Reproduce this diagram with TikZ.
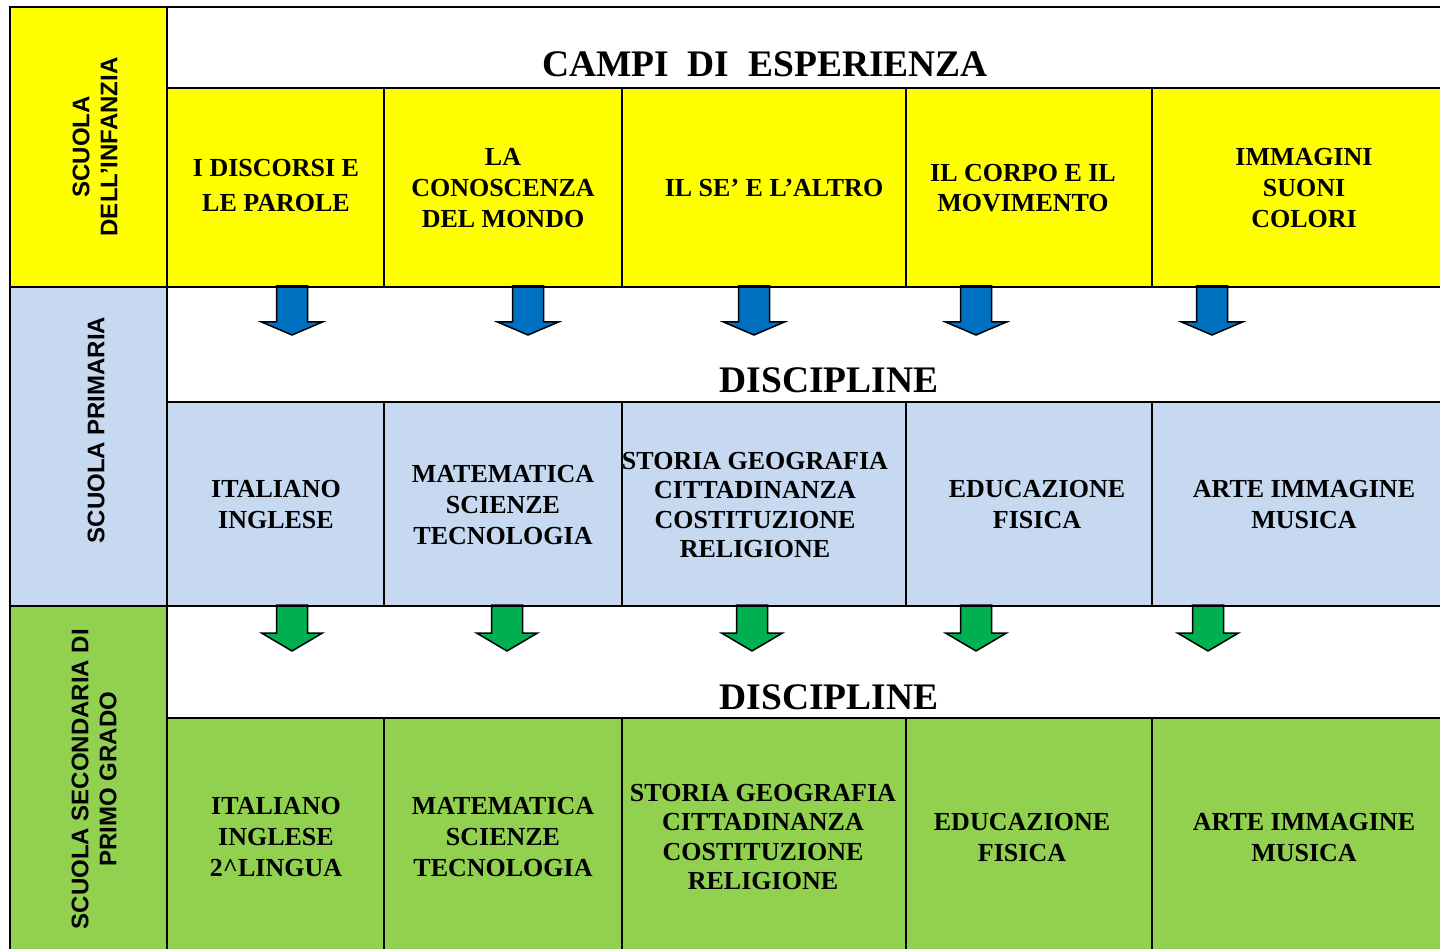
\documentclass[tikz,border=0pt]{standalone}
\usepackage{fontspec}
\setmainfont{Liberation Serif}
\newfontfamily\arialf{Liberation Sans}
\definecolor{cyel}{HTML}{FFFF00}
\definecolor{cblu}{HTML}{C6D9F1}
\definecolor{cgrn}{HTML}{92D050}
\definecolor{ablu}{HTML}{0070C0}
\definecolor{agrn}{HTML}{00B050}
\begin{document}
\begin{tikzpicture}[x=1pt,y=-1pt,
  grid/.style={draw=black,line width=2pt},
  txt/.style={font=\bfseries\fontsize{26}{31}\selectfont,align=center,inner sep=0pt},
  side/.style={font=\arialf\bfseries\fontsize{24}{28}\selectfont,align=center,rotate=90,inner sep=0pt},
  big/.style={font=\bfseries\fontsize{37.5}{40}\selectfont,inner sep=0pt},
  barrow/.style={fill=ablu,draw=black,line width=1.5pt,line join=miter},
  garrow/.style={fill=agrn,draw=black,line width=1.5pt,line join=miter}]
\useasboundingbox (0,0) rectangle (1440,949);
\clip (0,0) rectangle (1440,949);
% fills
\fill[white] (0,0) rectangle (1440,949);
\fill[cyel] (10,7) rectangle (167,287);
\fill[cblu] (10,287) rectangle (167,606);
\fill[cgrn] (10,606) rectangle (167,960);
\fill[cyel] (167,88) rectangle (1450,287);
\fill[cblu] (167,402) rectangle (1450,606);
\fill[cgrn] (167,718) rectangle (1450,960);
% arrows
\foreach \c [count=\i] in {292,528,754,976,1212}{
  \draw[barrow] (\c-15.5,286) -- (\c+15.5,286) -- (\c+15.5,322) -- (\c+30.5,322)
     -- (\c,335) -- (\c-30.5,322) -- (\c-15.5,322) -- cycle;
}
\foreach \c [count=\i] in {292,507,752,976,1208}{
  \draw[garrow] (\c-15.5,605) -- (\c+15.5,605) -- (\c+15.5,633) -- (\c+30.5,633)
     -- (\c,651) -- (\c-30.5,633) -- (\c-15.5,633) -- cycle;
}
% grid lines
\draw[grid] (1450,7) -- (10,7) -- (10,960);
\draw[grid] (167,7) -- (167,960);
\draw[grid] (167,88) -- (1450,88);
\draw[grid] (10,287) -- (1450,287);
\draw[grid] (167,402) -- (1450,402);
\draw[grid] (10,606) -- (1450,606);
\draw[grid] (167,718) -- (1450,718);
\foreach \x in {384,622,906,1152}{
  \draw[grid] (\x,88) -- (\x,287);
  \draw[grid] (\x,402) -- (\x,606);
  \draw[grid] (\x,718) -- (\x,960);
}
% side labels
\node[side] (s1) at (95,147) {SCUOLA\\DELL’INFANZIA};
\node[side] (s2) at (96,430) {SCUOLA PRIMARIA};
\node[side] (s3) at (94,779) {SCUOLA SECONDARIA DI\\PRIMO GRADO};
% headers
\node[big] (h1) at (765,64) {CAMPI\ \ DI\ \ ESPERIENZA};
\node[big] (h2) at (829,380) {DISCIPLINE};
\node[big] (h3) at (829,697) {DISCIPLINE};
% yellow row
\node[txt,font=\bfseries\fontsize{26}{35}\selectfont] (y1) at (276,186) {I DISCORSI E\\LE PAROLE};
\node[txt] (y2) at (503,188) {LA\\CONOSCENZA\\DEL MONDO};
\node[txt] (y3) at (774,188) {IL SE’ E L’ALTRO};
\node[txt,font=\bfseries\fontsize{26}{30}\selectfont] (y4) at (1023,188) {IL CORPO E IL\\MOVIMENTO};
\node[txt] (y5) at (1304,188) {IMMAGINI\\SUONI\\COLORI};
% blue row
\node[txt] (b1) at (276,505) {ITALIANO\\INGLESE};
\node[txt] (b2) at (503,505) {MATEMATICA\\SCIENZE\\TECNOLOGIA};
\node[txt,font=\bfseries\fontsize{26}{29.3}\selectfont] (b3) at (755,505) {STORIA GEOGRAFIA\\CITTADINANZA\\COSTITUZIONE\\RELIGIONE};
\node[txt] (b4) at (1037,505) {EDUCAZIONE\\FISICA};
\node[txt] (b5) at (1304,505) {ARTE IMMAGINE\\MUSICA};
% green row
\node[txt] (g1) at (276,837) {ITALIANO\\INGLESE\\2\textasciicircum LINGUA};
\node[txt] (g2) at (503,837) {MATEMATICA\\SCIENZE\\TECNOLOGIA};
\node[txt,font=\bfseries\fontsize{26}{29.3}\selectfont] (g3) at (763,837) {STORIA GEOGRAFIA\\CITTADINANZA\\COSTITUZIONE\\RELIGIONE};
\node[txt] (g4) at (1022,838) {EDUCAZIONE\\FISICA};
\node[txt] (g5) at (1304,838) {ARTE IMMAGINE\\MUSICA};
\end{tikzpicture}
\end{document}
